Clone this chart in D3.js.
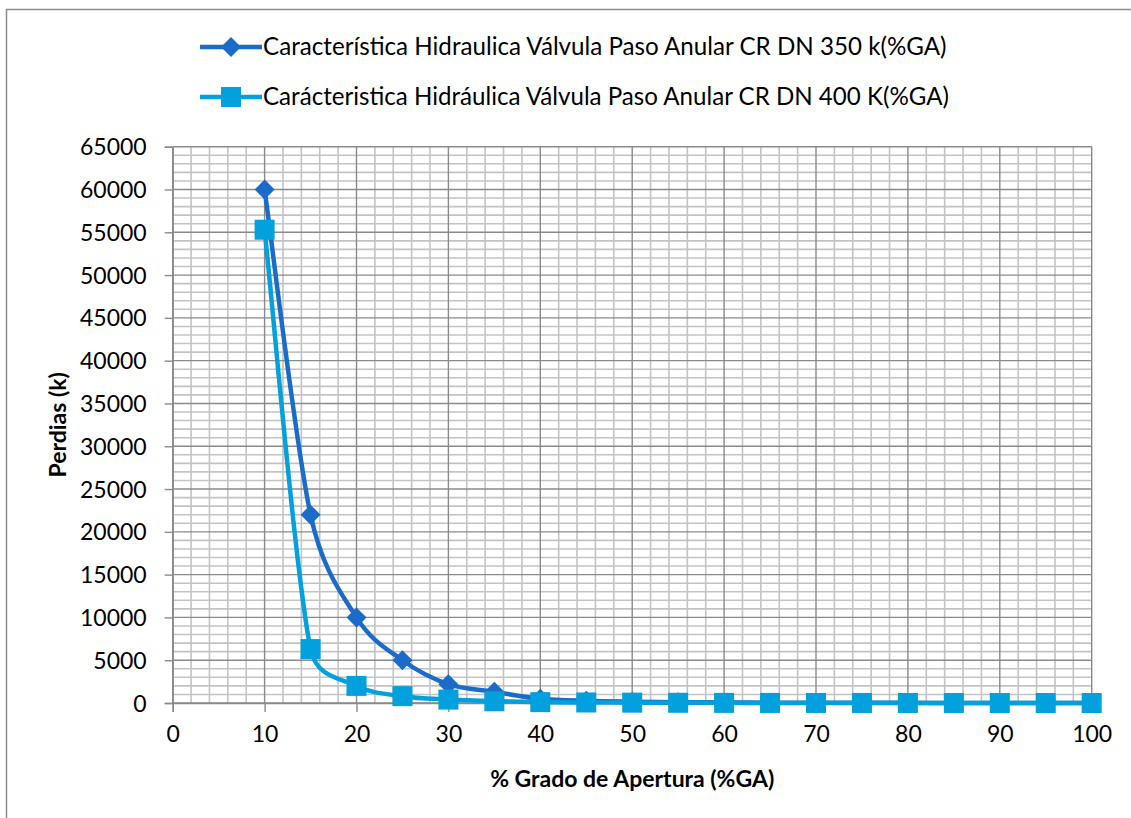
<!DOCTYPE html>
<html>
<head>
<meta charset="utf-8">
<script src="https://cdn.jsdelivr.net/npm/d3@7"></script>
<style>
    body { margin: 0; background: #fff; }
    svg { display: block; font-family: Lato, "Open Sans", sans-serif; }
</style>
</head>
<body>
<svg id="chart"></svg>
<script>
// data
const apertura = [10, 15, 20, 25, 30, 35, 40, 45, 50, 55, 60, 65, 70, 75, 80, 85, 90, 95, 100];
const dn350 = [60000, 22000, 10000, 5000, 2200, 1300, 500, 250, 150, 100, 60, 40, 30, 20, 15, 10, 5, 2, 0];
const dn400 = [55300, 6300, 2000, 800, 400, 200, 100, 60, 40, 25, 15, 10, 6, 4, 3, 2, 1, 1, 0];
const seriesNames = [
    "Característica Hidraulica Válvula Paso Anular CR DN 350 k(%GA)",
    "Carácteristica Hidráulica Válvula Paso Anular CR DN 400 K(%GA)"
];
const xTicks = [0, 10, 20, 30, 40, 50, 60, 70, 80, 90, 100];
const yTicks = [0, 5000, 10000, 15000, 20000, 25000, 30000, 35000, 40000, 45000, 50000, 55000, 60000, 65000];

const W = 1131, H = 818;
const svg = d3.select("#chart").attr("width", W).attr("height", H);

//outer border
svg.append("rect")
    .attr("x", 6.5).attr("y", 9.5)
    .attr("width", 1140).attr("height", 830)
    .attr("fill", "#fff")
    .attr("stroke", "#8c8c8c")
    .attr("stroke-width", 1.5);

const plot = { left: 172.7, right: 1091.7, top: 146.7, bottom: 703 };

const x = d3.scaleLinear().domain([0, 100]).range([plot.left, plot.right]);
const y = d3.scaleLinear().domain([0, 65000]).range([plot.bottom, plot.top]);

const g = svg.append("g");

//grid minor-----------------------------------------------------------------
const minorX = d3.range(0, 101, 2).filter(d => d % 10 !== 0);
const minorY = d3.range(0, 65001, 1000).filter(d => d % 5000 !== 0);

g.append("g").selectAll("line").data(minorX).join("line")
    .attr("x1", d => x(d)).attr("x2", d => x(d))
    .attr("y1", plot.top).attr("y2", plot.bottom)
    .attr("stroke", "#c3c3c3").attr("stroke-width", 1.6);

g.append("g").selectAll("line").data(minorY).join("line")
    .attr("x1", plot.left).attr("x2", plot.right)
    .attr("y1", d => y(d)).attr("y2", d => y(d))
    .attr("stroke", "#c3c3c3").attr("stroke-width", 1.6);

//grid major
g.append("g").selectAll("line").data(xTicks).join("line")
    .attr("x1", d => x(d)).attr("x2", d => x(d))
    .attr("y1", plot.top).attr("y2", plot.bottom)
    .attr("stroke", "#8a8a8a").attr("stroke-width", 1.4);

g.append("g").selectAll("line").data(yTicks).join("line")
    .attr("x1", plot.left).attr("x2", plot.right)
    .attr("y1", d => y(d)).attr("y2", d => y(d))
    .attr("stroke", "#8a8a8a").attr("stroke-width", 1.4);

//axes
const xAxis = g.append("g")
    .attr("transform", `translate(0,${plot.bottom})`)
    .call(d3.axisBottom(x).tickValues(xTicks).tickSize(9).tickPadding(14));
const yAxis = g.append("g")
    .attr("transform", `translate(${plot.left},0)`)
    .call(d3.axisLeft(y).tickValues(yTicks).tickSize(8).tickPadding(18).tickFormat(d3.format("d")));

[xAxis, yAxis].forEach(a => {
    a.select(".domain").attr("stroke", "#8a8a8a").attr("stroke-width", 1.4);
    a.selectAll(".tick line").attr("stroke", "#8a8a8a").attr("stroke-width", 1.4);
    a.selectAll("text").attr("font-size", 23).attr("fill", "#000").attr("font-family", "Lato");
});
xAxis.selectAll("text").attr("dy", "0.71em");
yAxis.selectAll("text").attr("dy", "0.35em");

//axis titles
g.append("text")
    .attr("x", (plot.left + plot.right) / 2).attr("y", 787)
    .attr("text-anchor", "middle")
    .attr("font-size", 23).attr("font-weight", "bold")
    .text("% Grado de Apertura (%GA)");

g.append("text")
    .attr("transform", `translate(66,${(plot.top + plot.bottom) / 2}) rotate(-90)`)
    .attr("text-anchor", "middle")
    .attr("font-size", 23).attr("font-weight", "bold")
    .text("Perdias (k)");

//smoothing like the spreadsheet: bezier with tangents (P[i+1]-P[i-1])/6, capped at half the segment
function ExcelCurve(context) { this._context = context; }
ExcelCurve.prototype = {
    areaStart() {}, areaEnd() {},
    lineStart() { this._pts = []; },
    point(px, py) { this._pts.push([+px, +py]); },
    lineEnd() {
        const p = this._pts, n = p.length, ctx = this._context;
        if (!n) return;
        const dist = (a, b) => Math.hypot(b[0] - a[0], b[1] - a[1]);
        ctx.moveTo(p[0][0], p[0][1]);
        for (let i = 0; i < n - 1; i++) {
            const p0 = p[Math.max(i - 1, 0)], p1 = p[i], p2 = p[i + 1], p3 = p[Math.min(i + 2, n - 1)];
            const d12 = dist(p1, p2);
            const d02 = dist(p0, p2) || 1, d13 = dist(p1, p3) || 1;
            const f1 = Math.min(1 / 6, d12 / (2 * d02));
            const f2 = Math.min(1 / 6, d12 / (2 * d13));
            ctx.bezierCurveTo(
                p1[0] + (p2[0] - p0[0]) * f1, p1[1] + (p2[1] - p0[1]) * f1,
                p2[0] - (p3[0] - p1[0]) * f2, p2[1] - (p3[1] - p1[1]) * f2,
                p2[0], p2[1]);
        }
    }
};
const curveExcel = ctx => new ExcelCurve(ctx);

//series-----------------------------------------------------------------------
const colors = ["#1b6cc8", "#02a0dc"];
const line = d3.line()
    .x(d => x(d[0])).y(d => y(d[1]))
    .curve(curveExcel);

function diamond(sel, cx, cy, color) {
    const r = 10;
    sel.append("path")
        .attr("d", `M${cx},${cy - r}L${cx + r},${cy}L${cx},${cy + r}L${cx - r},${cy}Z`)
        .attr("fill", color);
}
function square(sel, cx, cy, color) {
    const s = 20;
    sel.append("rect")
        .attr("x", cx - s / 2).attr("y", cy - s / 2)
        .attr("width", s).attr("height", s)
        .attr("fill", color);
}

const allSeries = [dn350, dn400];
allSeries.forEach((vals, i) => {
    const pts = apertura.map((a, j) => [a, vals[j]]);
    const sg = g.append("g");
    sg.append("path")
        .attr("d", line(pts))
        .attr("fill", "none")
        .attr("stroke", colors[i])
        .attr("stroke-width", 4.5);
    pts.forEach(p => {
        if (i === 0) diamond(sg, x(p[0]), y(p[1]), colors[i]);
        else square(sg, x(p[0]), y(p[1]), colors[i]);
    });
});

//legend------------------------------------------------------------------------
const legendY = [47, 97];
seriesNames.forEach((name, i) => {
    const lg = svg.append("g");
    lg.append("line")
        .attr("x1", 200).attr("x2", 262)
        .attr("y1", legendY[i]).attr("y2", legendY[i])
        .attr("stroke", colors[i]).attr("stroke-width", 4.5);
    if (i === 0) diamond(lg, 231, legendY[i], colors[i]);
    else square(lg, 231, legendY[i], colors[i]);
    const t = lg.append("text")
        .attr("x", 263).attr("y", legendY[i])
        .attr("dy", "0.35em")
        .attr("font-size", 22)
        .text(name);
    //fit text to the width in the picture
    const target = i === 0 ? 684 : 686;
    const len = t.node().getComputedTextLength();
    t.attr("font-size", 22 * target / len);
});
</script>
</body>
</html>
